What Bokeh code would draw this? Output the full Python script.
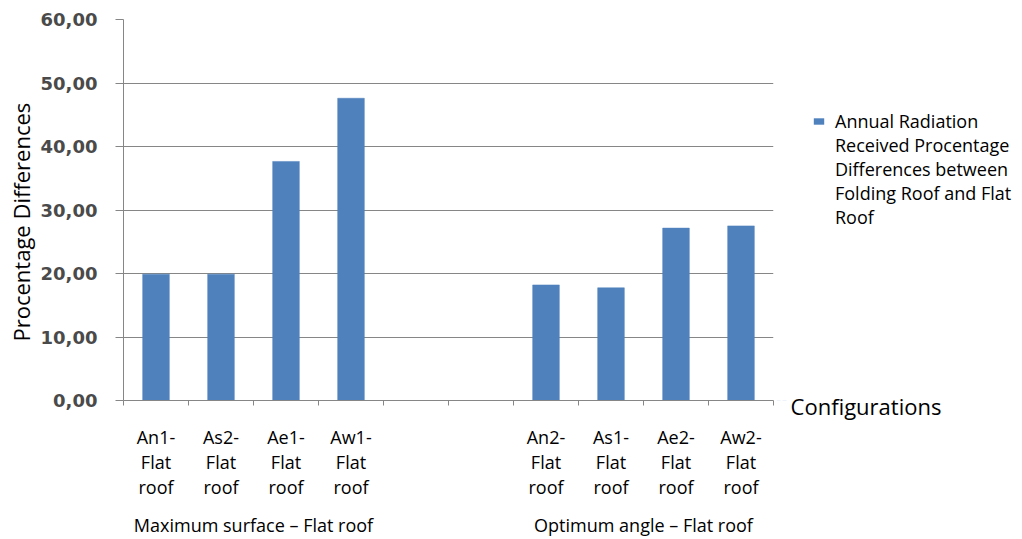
from bokeh.plotting import figure
from bokeh.layouts import row
from bokeh.models import Range1d, FixedTicker, LinearAxis, Title
from bokeh.embed import file_html
from bokeh.resources import INLINE

# ---- data -------------------------------------------------------------
categories = ["An1-\nFlat\nroof", "As2-\nFlat\nroof", "Ae1-\nFlat\nroof", "Aw1-\nFlat\nroof",
              "", "",
              "An2-\nFlat\nroof", "As1-\nFlat\nroof", "Ae2-\nFlat\nroof", "Aw2-\nFlat\nroof"]
values = [19.9, 19.9, 37.65, 47.6, None, None, 18.2, 17.75, 27.15, 27.5]
groups = ["Maximum surface \u2013 Flat roof", "Optimum angle \u2013 Flat roof"]
group_members = [[0, 1, 2, 3], [6, 7, 8, 9]]
y_ticks = [0, 10, 20, 30, 40, 50, 60]
y_tick_labels = ["0,00", "10,00", "20,00", "30,00", "40,00", "50,00", "60,00"]
series_lines = ["Annual Radiation", "Received Procentage", "Differences between",
                "Folding Roof and Flat", "Roof"]
y_title = "Procentage Differences"
x_title = "Configurations"

BAR = "#4f81bd"
GRID = "#868686"
FONT = "Open Sans"

slots = [i + 0.5 for i in range(len(categories))]
bx = [slots[i] for i, v in enumerate(values) if v is not None]
by = [v for v in values if v is not None]

TOP, BOTTOM = 19, 137

# ---- main chart -------------------------------------------------------
p = figure(width=776, height=539,
           x_range=Range1d(0, len(categories)), y_range=Range1d(0, 60),
           output_backend="svg", toolbar_location=None,
           min_border_left=123, min_border_top=TOP, min_border_right=3, min_border_bottom=BOTTOM)
p.outline_line_color = None

p.vbar(x=bx, top=by, width=0.41, fill_color=BAR, line_color=BAR, line_width=0.5)

ya = p.yaxis[0]
ya.ticker = FixedTicker(ticks=y_ticks)
ya.major_label_overrides = {t: l for t, l in zip(y_ticks, y_tick_labels)}
ya.major_label_text_font = "DejaVu Sans"
ya.major_label_text_font_style = "bold"
ya.major_label_text_font_size = "18px"
ya.major_label_text_color = "#4a4a4a"
ya.axis_line_color = GRID
ya.major_tick_line_color = GRID
ya.major_tick_out = 8
ya.major_tick_in = 0
ya.minor_tick_line_color = None
ya.major_label_standoff = 18

p.add_layout(Title(text=y_title, align="left", offset=59, text_font=FONT,
                   text_font_size="22px", text_font_style="normal", text_color="black",
                   standoff=4), "left")

p.ygrid.ticker = FixedTicker(ticks=y_ticks)
p.ygrid.grid_line_color = GRID
p.xgrid.grid_line_color = None

xa = p.xaxis[0]
xa.ticker = FixedTicker(ticks=slots, minor_ticks=list(range(len(categories) + 1)))
xa.major_label_overrides = {s: c for s, c in zip(slots, categories)}
xa.major_label_text_font = FONT
xa.major_label_text_font_size = "18px"
xa.major_label_text_color = "black"
xa.major_label_text_line_height = 1.05
xa.major_label_standoff = 19
xa.axis_line_color = GRID
xa.major_tick_line_color = None
xa.major_tick_out = 0
xa.major_tick_in = 0
xa.minor_tick_line_color = GRID
xa.minor_tick_out = 5
xa.minor_tick_in = 0

gcent = [sum(slots[i] for i in m) / len(m) for m in group_members]
ga = LinearAxis(ticker=FixedTicker(ticks=gcent, minor_ticks=[]),
                major_label_overrides={c: g for c, g in zip(gcent, groups)},
                axis_line_color=None, major_tick_line_color=None, minor_tick_line_color=None,
                major_label_text_font=FONT, major_label_text_font_size="18px",
                major_label_text_color="black", major_label_standoff=5)
p.add_layout(ga, "below")

# ---- side panel: axis title + legend ----------------------------------
side_w = 1022 - 776
q = figure(width=side_w, height=539, x_range=Range1d(0, side_w), y_range=Range1d(1000, 1383),
           x_axis_type=None, y_axis_type=None, output_backend="svg", toolbar_location=None,
           min_border_left=0, min_border_right=0, min_border_top=TOP, min_border_bottom=BOTTOM)
q.outline_line_color = None
q.xgrid.grid_line_color = None
q.ygrid.grid_line_color = None

# legend key for the series (its bars fall outside this panel's visible range)
q.vbar(x=bx, top=by, width=0.41, fill_color=BAR, line_color=None,
       legend_label=series_lines[0])
# continuation lines of the legend text (no key glyph)
q.vbar(x=[], top=[], width=0.41, fill_color=BAR, line_color=None,
       legend_label="\n".join(series_lines[1:]))

title_pos = [89.5]
xt = LinearAxis(ticker=FixedTicker(ticks=title_pos, minor_ticks=[]),
                major_label_overrides={title_pos[0]: x_title},
                axis_line_color=None, major_tick_line_color=None, minor_tick_line_color=None,
                major_tick_out=0, major_tick_in=0,
                major_label_text_font=FONT, major_label_text_font_size="22px",
                major_label_text_color="black", major_label_standoff=-10)
q.add_layout(xt, "below")

lg = q.legend[0]
lg.location = (36, 171)
lg.border_line_color = None
lg.background_fill_alpha = 0
lg.margin = 0
lg.padding = 0
lg.spacing = 0
lg.glyph_width = 13
lg.glyph_height = 8
lg.label_standoff = 10
lg.label_text_font = FONT
lg.label_text_font_size = "18px"
lg.label_text_line_height = 0.94
lg.label_text_color = "black"

open("out.html", "w").write(file_html(row(p, q), INLINE))
